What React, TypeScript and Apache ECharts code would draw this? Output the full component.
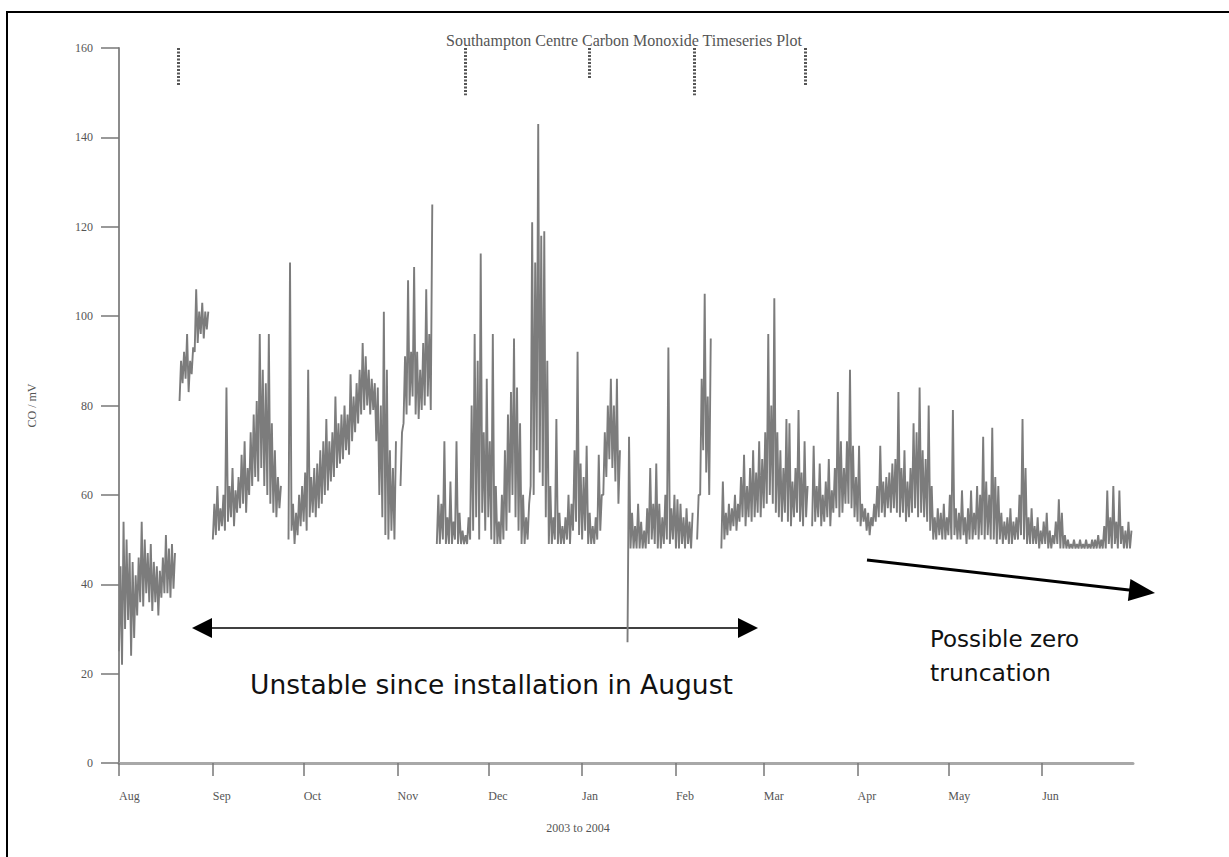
import { useEffect, useRef } from 'react';
import * as echarts from 'echarts';

// Month start positions (days since 1 Aug 2003) and their labels
const monthStarts = [0, 31, 61, 92, 122, 153, 184, 213, 244, 274, 305];
const monthNames = ['Aug', 'Sep', 'Oct', 'Nov', 'Dec', 'Jan', 'Feb', 'Mar', 'Apr', 'May', 'Jun'];

// Daily minimum CO (mV), day 0 = 1 Aug 2003 (null = no data)
const dailyLow = [
  25, 22, 30, 32, 24, 28, 33, 36, 35, 38,
  36, 34, 36, 33, 37, 38, 38, 37, 39, null,
  81, 85, 86, 83, 87, 92, 94, 96, 95, 97,
  null, 50, 51, 52, 53, 52, 54, 55, 53, 56,
  57, 58, 56, 60, 62, 64, 63, 66, 62, 60,
  58, 56, 55, 57, null, null, 50, 52, 49, 51,
  53, 54, 52, 55, 56, 55, 57, 58, 60, 61,
  63, 64, 66, 67, 68, 70, 69, 72, 74, 76,
  78, 79, 80, 78, 79, 72, 60, 55, 51, 50,
  52, 50, null, 62, 76, 78, 80, 82, 78, 77,
  79, 80, 82, 79, null, 49, 49, 50, 49, 49,
  49, 50, 49, 49, 49, 49, 50, 52, 55, 50,
  56, 52, 55, 50, 49, 49, 49, 50, 52, 56,
  60, 55, 52, 49, 49, 50, 62, 60, 70, 65,
  62, 55, 49, 49, 50, 49, 49, 49, 50, 49,
  52, 54, 51, 50, 52, 49, 49, 49, 50, 52,
  60, 64, 68, 66, 63, 58, null, null, 27, 48,
  48, 48, 48, 48, 48, 49, 50, 49, 48, 48,
  49, 50, 49, 50, 48, 48, 49, 48, 49, 48,
  null, 50, 60, 70, 65, 60, null, null, null, 48,
  50, 51, 52, 53, 52, 54, 55, 53, 55, 54,
  55, 56, 55, 57, 58, 60, 58, 56, 55, 54,
  56, 54, 53, 55, 56, 54, 53, 55, null, 53,
  54, 55, 53, 54, 55, 53, 56, 57, 55, 56,
  58, 58, 57, 55, 54, 53, 54, 52, 51, 53,
  54, 55, 56, 55, 57, 56, 57, 56, 55, 56,
  54, 55, 56, 57, 55, 56, 55, 54, 52, 50,
  50, 51, 50, 50, 51, 50, 51, 50, 50, 51,
  49, 50, 50, 51, 50, 51, 50, 51, 50, 50,
  49, 50, 49, 50, 49, 49, 50, 50, 51, 50,
  49, 49, 49, 49, 48, 49, 49, 48, 48, 49,
  49, 48, 48, 48, 48, 48, 48, 48, 48, 48,
  48, 48, 48, 48, 48, 48, 48, 49, 48, 49,
  48, 49, 48, 48, 48,
];

// Daily maximum CO (mV)
const dailyHigh = [
  44, 54, 50, 47, 45, 42, 46, 54, 50, 47,
  49, 45, 44, 43, 46, 51, 48, 49, 47, null,
  90, 92, 96, 90, 93, 106, 101, 103, 101, 101,
  null, 58, 62, 57, 60, 84, 62, 66, 61, 64,
  69, 72, 66, 74, 78, 81, 96, 88, 85, 96,
  76, 70, 64, 62, null, null, 112, 58, 56, 60,
  62, 65, 88, 64, 66, 67, 70, 72, 77, 72,
  74, 82, 76, 78, 80, 78, 87, 82, 85, 88,
  94, 91, 88, 86, 85, 84, 80, 101, 88, 70,
  66, 72, null, 74, 91, 108, 92, 111, 92, 88,
  94, 106, 96, 125, null, 60, 58, 72, 55, 63,
  54, 72, 56, 52, 51, 55, 80, 96, 90, 114,
  74, 86, 72, 96, 62, 54, 60, 70, 78, 83,
  95, 84, 76, 60, 55, 58, 121, 112, 143, 118,
  119, 90, 62, 55, 77, 56, 53, 55, 60, 58,
  70, 92, 67, 64, 71, 56, 53, 55, 69, 60,
  74, 80, 86, 80, 86, 70, null, null, 73, 56,
  53, 58, 54, 52, 57, 66, 58, 67, 58, 55,
  60, 93, 57, 60, 59, 58, 55, 57, 54, 56,
  null, 60, 86, 105, 82, 95, null, null, null, 63,
  56, 58, 57, 60, 58, 64, 69, 62, 66, 70,
  65, 72, 68, 74, 96, 80, 104, 74, 70, 66,
  77, 76, 63, 66, 79, 65, 72, 62, null, 71,
  62, 67, 60, 63, 68, 61, 66, 83, 72, 66,
  72, 88, 71, 64, 71, 58, 57, 56, 55, 58,
  62, 71, 63, 64, 65, 67, 68, 83, 66, 70,
  63, 66, 76, 74, 84, 70, 68, 80, 62, 55,
  57, 56, 58, 55, 60, 79, 57, 56, 61, 55,
  57, 61, 56, 62, 60, 73, 63, 60, 75, 64,
  62, 56, 54, 55, 57, 54, 55, 60, 77, 66,
  55, 57, 53, 55, 52, 54, 56, 52, 51, 54,
  59, 56, 51, 50, 49, 50, 49, 50, 49, 50,
  49, 50, 50, 51, 50, 53, 61, 55, 62, 54,
  61, 53, 52, 54, 52,
];

// Event markers at the top of the plot (day index and lower end in mV)
const markerDays = [19.5, 114.5, 155.4, 190, 226.7];
const markerBottoms = [151.7, 149.4, 153.2, 149.4, 151.7];

export default function App() {
  const ref = useRef<HTMLDivElement>(null);

  useEffect(() => {
    if (!ref.current) return;
    const chart = echarts.init(ref.current, null, { renderer: 'svg' });

    const lineData: (number | null)[][] = [];
    for (let i = 0; i < dailyLow.length; i++) {
      if (dailyLow[i] == null || dailyHigh[i] == null) {
        lineData.push([i + 0.25, null]);
      } else {
        lineData.push([i, dailyLow[i]]);
        lineData.push([i + 0.5, dailyHigh[i]]);
      }
    }

    const serif = '"Liberation Serif", "DejaVu Serif", serif';
    const sans = '"DejaVu Sans", Verdana, sans-serif';
    const labelGrey = '#555555';

    // arrow geometry for the diagonal arrow
    const ax0 = 867, ay0 = 560, ax1 = 1155, ay1 = 593;
    const len = Math.hypot(ax1 - ax0, ay1 - ay0);
    const ux = (ax1 - ax0) / len, uy = (ay1 - ay0) / len;
    const hl = 26, hw = 11;
    const bx = ax1 - ux * hl, by = ay1 - uy * hl;

    const txt = (text: string, x: number, y: number, size: number, family: string, fill: string, align = 'left') => ({
      type: 'text',
      x,
      y,
      style: {
        text,
        fontFamily: family,
        fontSize: size,
        fill,
        align,
        verticalAlign: 'middle',
        textAlign: align,
        textVerticalAlign: 'middle',
      },
    });

    chart.setOption({
      animation: false,
      backgroundColor: '#ffffff',
      textStyle: { color: labelGrey },
      grid: { left: 119, right: 96, top: 48, bottom: 94 },
      xAxis: {
        type: 'value',
        min: 0,
        max: 335,
        splitLine: { show: false },
        axisLine: { show: true, lineStyle: { color: '#a8a8a8', width: 3 } },
        axisTick: {
          show: true,
          customValues: monthStarts,
          length: 13,
          lineStyle: { color: '#777', width: 1.5 },
        },
        axisLabel: {
          customValues: monthStarts,
          formatter: (v: number) => monthNames[monthStarts.indexOf(v)] ?? '',
          align: 'left',
          margin: 27,
          fontFamily: serif,
          fontSize: 12,
          color: labelGrey,
        },
      },
      yAxis: {
        type: 'value',
        min: 0,
        max: 160,
        interval: 20,
        name: 'CO / mV',
        nameLocation: 'middle',
        nameGap: 81,
        nameRotate: 90,
        nameTextStyle: { fontFamily: serif, fontSize: 12, color: labelGrey },
        splitLine: { show: false },
        axisLine: { show: true, lineStyle: { color: '#8c8c8c', width: 2 } },
        axisTick: { show: true, length: 18, lineStyle: { color: '#777', width: 1.5 } },
        axisLabel: {
          margin: 26,
          fontFamily: serif,
          fontSize: 12,
          color: labelGrey,
        },
      },
      series: [
        {
          type: 'line',
          data: lineData,
          showSymbol: false,
          connectNulls: false,
          lineStyle: { color: '#7c7c7c', width: 1.9 },
          markLine: {
            silent: true,
            symbol: 'none',
            label: { show: false },
            lineStyle: { color: '#555', width: 3, type: [2, 1.5] },
            data: markerDays.map((d, i) => [
              { coord: [d, 160] },
              { coord: [d, markerBottoms[i]] },
            ]),
          },
        },
      ],
      graphic: [
        {
          type: 'polyline',
          shape: { points: [[7, 880], [7, 12], [1250, 12]] },
          style: { stroke: '#000', lineWidth: 2, fill: 'none' },
        },
        txt('Southampton Centre Carbon Monoxide Timeseries Plot', 624, 40, 16, serif, '#555', 'center'),
        txt('2003 to 2004', 578, 828, 12, serif, labelGrey, 'center'),
        // double-headed arrow
        {
          type: 'line',
          shape: { x1: 205, y1: 628, x2: 745, y2: 628 },
          style: { stroke: '#000', lineWidth: 1.6 },
        },
        {
          type: 'polygon',
          shape: { points: [[192, 628], [212, 618], [212, 638]] },
          style: { fill: '#000' },
        },
        {
          type: 'polygon',
          shape: { points: [[758, 628], [738, 618], [738, 638]] },
          style: { fill: '#000' },
        },
        // diagonal arrow
        {
          type: 'line',
          shape: { x1: ax0, y1: ay0, x2: bx + ux * 2, y2: by + uy * 2 },
          style: { stroke: '#000', lineWidth: 3 },
        },
        {
          type: 'polygon',
          shape: {
            points: [
              [ax1, ay1],
              [bx - uy * hw, by + ux * hw],
              [bx + uy * hw, by - ux * hw],
            ],
          },
          style: { fill: '#000' },
        },
        txt('Unstable since installation in August', 250, 684, 26.5, sans, '#111'),
        txt('Possible zero', 930, 639, 23, sans, '#111'),
        txt('truncation', 930, 673, 23.5, sans, '#111'),
      ],
    });

    return () => chart.dispose();
  }, []);

  return (
    <div
      ref={ref}
      style={{ position: 'absolute', left: 0, top: 0, width: 1229, height: 857, background: '#fff' }}
    />
  );
}
